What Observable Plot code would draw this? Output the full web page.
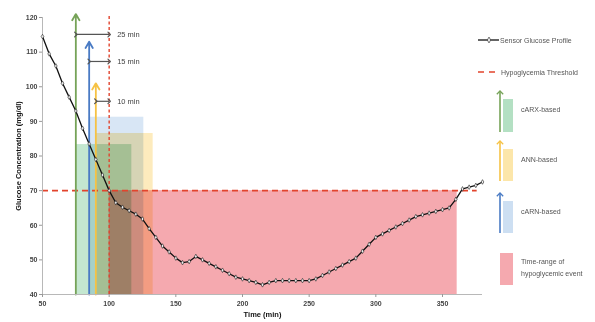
<!DOCTYPE html>
<html>
<head>
<meta charset="utf-8">
<script src="https://cdn.jsdelivr.net/npm/d3@7"></script>
<script src="https://cdn.jsdelivr.net/npm/@observablehq/plot@0.6"></script>
<style>
  html, body { margin: 0; padding: 0; background: #fff; }
  #wrap { position: relative; width: 595px; height: 322px; font-family: "Liberation Sans", Arial, sans-serif; }
  #legend { position: absolute; left: 470px; top: 0; }
</style>
</head>
<body>
<div id="wrap"></div>
<script>
// Sensor glucose readings (min, mg/dl)
const times = [50,55,60,65,70,75,80,85,90,95,100,105,110,115,120,125,130,135,140,145,150,155,160,165,170,175,180,185,190,195,200,205,210,215,220,225,230,235,240,245,250,255,260,265,270,275,280,285,290,295,300,305,310,315,320,325,330,335,340,345,350,355,360,365,370,375,380];
const glucose = [114.5,109.5,106,101,97,93,88,83.5,79,74.5,70,66.5,65.2,64.2,63.2,61.8,59,56.5,54,52.3,50.5,49.2,49.5,51,50,49,48,47,46,45,44.5,44,43.5,42.8,43.5,44,44,44,44,44,44,44.5,45.5,46.5,47.5,48.5,49.5,50.5,52.5,54.5,56.5,57.5,58.5,59.5,60.5,61.5,62.5,63,63.5,64,64.5,65,67.5,70.5,71,71.5,72.5];

// Hypoglycemia threshold and event window
const threshold = 70;
const eventStart = 100;
const eventEnd = 361;

// Prediction methods: alarm time, shaded window end, window top, arrow top
const methods = ["cARX-based", "ANN-based", "cARN-based"];
const alarmTimes = [75, 90, 85];
const windowEnds = [117, 133, 126];
const windowTops = [83.3, 86.5, 91.2];
const arrowTops = [121, 101, 113];
const arrowColors = ["#76a358", "#f6c244", "#4a7bc4"];
const fillColors = ["#b4e0c3", "#fce6aa", "#cddff2"];
const eventColor = "#f5a9af";

// Lead-time annotations
const leadTimes = [25, 10, 15];
const leadY = [115.1, 95.8, 107.3];
const leadLabels = ["25 min", "10 min", "15 min"];

const xTicks = [50, 100, 150, 200, 250, 300, 350];
const yTicks = [40, 50, 60, 70, 80, 90, 100, 110, 120];

const series = times.map((t, i) => ({t, g: glucose[i]}));
const windows = methods.map((m, i) => ({m, x1: alarmTimes[i], x2: windowEnds[i], top: windowTops[i], arrowTop: arrowTops[i], stroke: arrowColors[i], fill: fillColors[i]}));
const leads = leadTimes.map((d, i) => ({from: eventStart - d, to: eventStart, y: leadY[i], label: leadLabels[i]}));
const drawOrder = [0, 2, 1].map(i => windows[i]);

const chart = Plot.plot({
  width: 595,
  height: 322,
  marginLeft: 42,
  marginRight: 113,
  marginTop: 17,
  marginBottom: 28,
  style: {fontFamily: "Liberation Sans, Arial, sans-serif", fontSize: "7px", color: "#333", background: "#fff"},
  x: {domain: [50, 380]},
  y: {domain: [40, 120]},
  marks: [
    Plot.rectY([{x1: eventStart, x2: eventEnd}], {x1: "x1", x2: "x2", y1: 40, y2: threshold, fill: eventColor}),
    Plot.rectY(drawOrder, {x1: "x1", x2: "x2", y1: 40, y2: "top", fill: d => d.fill, fillOpacity: 0.78, mixBlendMode: "multiply"}),
    Plot.ruleY([threshold], {x1: 50, x2: 376, stroke: "#e2442d", strokeWidth: 1.6, strokeDasharray: "6,4"}),
    Plot.ruleX([eventStart], {y1: 40, y2: 121, stroke: "#e2442d", strokeWidth: 1.4, strokeDasharray: "3,2.5"}),
    Plot.arrow(windows, {x1: "x1", x2: "x1", y1: 40, y2: "arrowTop", stroke: d => d.stroke, strokeWidth: 1.8, headLength: 6, bend: 0}),
    Plot.link(leads, {x1: "from", x2: "to", y1: "y", y2: "y", stroke: "#555", strokeWidth: 1.2, markerStart: "arrow", markerEnd: "arrow"}),
    Plot.text(leads, {x: eventStart + 6, y: "y", text: "label", textAnchor: "start", fontSize: 7.5, fill: "#444"}),
    Plot.ruleX([50], {y1: 40, y2: 120, stroke: "#b8b8b8"}),
    Plot.ruleY([40], {x1: 50, x2: 380, stroke: "#b8b8b8"}),
    Plot.line(series, {x: "t", y: "g", stroke: "#111", strokeWidth: 1.3}),
    Plot.dot(series, {x: "t", y: "g", symbol: "diamond", r: 1.4, stroke: "#222", strokeWidth: 0.6, fill: "#eee"}),
    Plot.axisY({ticks: yTicks, tickSize: 3, tickPadding: 2, stroke: "#999", fontWeight: "bold", fill: "#444",
      label: "Glucose Concentration (mg/dl)", labelAnchor: "center", labelArrow: "none", labelOffset: 27}),
    Plot.axisX({ticks: xTicks, tickSize: 3, tickPadding: 4, stroke: "#999", fontWeight: "bold", fill: "#444",
      label: "Time (min)", labelAnchor: "center", labelArrow: "none", labelOffset: 22})
  ]
});
chart.querySelectorAll("[aria-label='y-axis label'] text, [aria-label='x-axis label'] text").forEach(t => {
  t.setAttribute("font-weight", "bold");
  t.setAttribute("fill", "#111");
  t.setAttribute("font-size", "7.5");
});
document.getElementById("wrap").appendChild(chart);

// Legend at the right of the chart
const lg = d3.select("#wrap").append("svg").attr("id", "legend")
  .attr("width", 125).attr("height", 322)
  .style("font-family", "Liberation Sans, Arial, sans-serif").style("font-size", "7px");
const ox = 470;
const defs = lg.append("defs");
arrowColors.forEach((c, i) => {
  defs.append("marker").attr("id", "lgArrow" + i).attr("viewBox", "-5 -5 10 10")
    .attr("markerWidth", 5).attr("markerHeight", 5).attr("orient", "auto")
    .append("path").attr("d", "M-4,-4L0,0L-4,4").attr("fill", "none").attr("stroke", c).attr("stroke-width", 1.6);
});
// Sensor glucose profile
lg.append("line").attr("x1", 478 - ox).attr("x2", 499 - ox).attr("y1", 40).attr("y2", 40).attr("stroke", "#111").attr("stroke-width", 1.3);
lg.append("path").attr("d", d3.symbol(d3.symbolDiamond, 10)()).attr("transform", `translate(${489 - ox},40)`).attr("fill", "#eee").attr("stroke", "#222").attr("stroke-width", 0.6);
lg.append("text").attr("x", 500 - ox).attr("y", 42.5).attr("fill", "#555").text("Sensor Glucose Profile");
// Hypoglycemia threshold
lg.append("line").attr("x1", 478 - ox).attr("x2", 498 - ox).attr("y1", 72).attr("y2", 72).attr("stroke", "#e2442d").attr("stroke-width", 1.6).attr("stroke-dasharray", "6,5");
lg.append("text").attr("x", 501 - ox).attr("y", 74.5).attr("fill", "#555").text("Hypoglycemia Threshold");
// Prediction methods
const lgItems = [{i: 0, top: 90, bottom: 132}, {i: 1, top: 140, bottom: 181}, {i: 2, top: 192, bottom: 233}];
lgItems.forEach(({i, top, bottom}) => {
  lg.append("rect").attr("x", 503 - ox).attr("y", top + 9).attr("width", 10).attr("height", bottom - top - 9).attr("fill", fillColors[i]);
  lg.append("line").attr("x1", 500 - ox).attr("x2", 500 - ox).attr("y1", bottom).attr("y2", top + 1)
    .attr("stroke", arrowColors[i]).attr("stroke-width", 1.6).attr("marker-end", `url(#lgArrow${i})`);
  lg.append("text").attr("x", 521 - ox).attr("y", top + 22).attr("fill", "#555").text(methods[i]);
});
// Hypoglycemic event
lg.append("rect").attr("x", 500 - ox).attr("y", 253).attr("width", 13).attr("height", 32).attr("fill", eventColor);
lg.append("text").attr("x", 521 - ox).attr("y", 264).attr("fill", "#555").text("Time-range of");
lg.append("text").attr("x", 521 - ox).attr("y", 276).attr("fill", "#555").text("hypoglycemic event");
</script>
</body>
</html>
